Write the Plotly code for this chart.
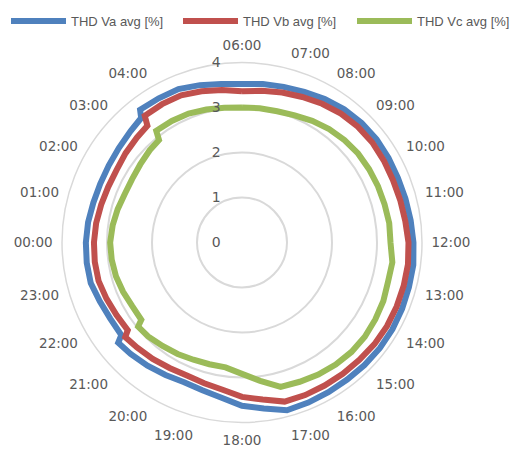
import plotly.graph_objects as go

# time of day in hours (06:00 start, wraps past 24 -> next day)
hours = [6.0, 6.5, 7.0, 7.5, 8.0, 8.5, 9.0, 9.5, 10.0, 10.5, 11.0, 11.5,
         12.0, 12.5, 13.0, 13.5, 14.0, 14.5, 15.0, 15.5, 16.0, 16.5, 17.0, 17.5,
         18.0, 18.5, 19.0, 19.5, 20.0, 20.5, 21.0, 21.4, 21.5, 22.0, 22.5, 23.0,
         23.5, 24.0, 24.5, 25.0, 25.5, 26.0, 26.5, 27.0, 27.4, 27.5, 28.0, 28.5,
         29.0, 29.5, 30.0]

thd_va = [3.52, 3.55, 3.58, 3.62, 3.68, 3.73, 3.76, 3.77, 3.76, 3.75, 3.76, 3.78,
          3.81, 3.84, 3.84, 3.85, 3.86, 3.86, 3.85, 3.84, 3.84, 3.85, 3.86, 3.72,
          3.63, 3.48, 3.40, 3.36, 3.40, 3.45, 3.50, 3.54, 3.38, 3.38, 3.42, 3.48,
          3.48, 3.47, 3.45, 3.42, 3.41, 3.42, 3.45, 3.50, 3.56, 3.72, 3.70, 3.69,
          3.62, 3.55, 3.52]

thd_vb = [3.36, 3.40, 3.45, 3.50, 3.56, 3.61, 3.64, 3.65, 3.64, 3.63, 3.64, 3.66,
          3.70, 3.72, 3.72, 3.72, 3.72, 3.71, 3.69, 3.68, 3.67, 3.67, 3.66, 3.52,
          3.43, 3.30, 3.24, 3.20, 3.22, 3.26, 3.30, 3.34, 3.20, 3.22, 3.26, 3.30,
          3.30, 3.29, 3.27, 3.24, 3.22, 3.22, 3.26, 3.30, 3.34, 3.55, 3.55, 3.54,
          3.48, 3.42, 3.36]

thd_vc = [3.00, 3.01, 3.02, 3.06, 3.12, 3.18, 3.22, 3.25, 3.26, 3.27, 3.28, 3.30,
          3.30, 3.37, 3.36, 3.40, 3.42, 3.44, 3.44, 3.42, 3.39, 3.35, 3.32, 3.10,
          2.92, 2.80, 2.80, 2.82, 2.86, 2.90, 2.95, 2.97, 2.82, 2.82, 2.86, 2.90,
          2.92, 2.93, 2.90, 2.86, 2.82, 2.82, 2.85, 2.90, 2.93, 3.13, 3.12, 3.10,
          3.06, 3.02, 3.00]

# hour labels shown around the chart (the reference shows no 05:00 label)
tick_hours = [0, 1, 2, 3, 4, 6, 7, 8, 9, 10, 11, 12, 13, 14, 15, 16, 17, 18,
              19, 20, 21, 22, 23]
tick_labels = [f"{h:02d}:00" for h in tick_hours]
radial_ticks = [0, 1, 2, 3, 4]

series = [
    ("THD Va avg [%]", thd_va, "#4F81BD"),
    ("THD Vb avg [%]", thd_vb, "#C0504D"),
    ("THD Vc avg [%]", thd_vc, "#9BBB59"),
]

theta = [h * 15 for h in hours]

W, H = 515, 453
cx, cy, R = 242, 242.5, 180
legend_px = [6, 178, 352]
legend_names = ["legend", "legend2", "legend3"]

fig = go.Figure()
for (name, vals, col), lg in zip(series, legend_names):
    fig.add_trace(go.Scatterpolar(
        r=vals, theta=theta, mode="lines", name=name, legend=lg,
        line=dict(color=col, width=6), hoverinfo="skip"))

legend_common = dict(orientation="h", y=1 - 6 / H, xanchor="left", yanchor="top",
                     itemwidth=55,
                     font=dict(family="Liberation Sans, Arial, sans-serif",
                               size=13, color="#595959"),
                     bgcolor="rgba(0,0,0,0)")

fig.update_layout(
    width=W, height=H,
    margin=dict(l=0, r=0, t=0, b=0),
    paper_bgcolor="white",
    font=dict(family="DejaVu Sans, sans-serif", color="#595959"),
    showlegend=True,
    legend=dict(x=legend_px[0] / W, **legend_common),
    legend2=dict(x=legend_px[1] / W, **legend_common),
    legend3=dict(x=legend_px[2] / W, **legend_common),
    polar=dict(
        domain=dict(x=[(cx - R) / W, (cx + R) / W],
                    y=[1 - (cy + R) / H, 1 - (cy - R) / H]),
        bgcolor="white",
        angularaxis=dict(
            rotation=180, direction="clockwise",
            tickmode="array", tickvals=[h * 15 for h in tick_hours],
            ticktext=tick_labels,
            tickfont=dict(family="DejaVu Sans, sans-serif", size=13.5, color="#595959"),
            showgrid=False, showline=True, linecolor="#d9d9d9", linewidth=1.5,
            ticks="outside", ticklen=6, tickcolor="rgba(0,0,0,0)"),
        radialaxis=dict(
            range=[0, 4], tickmode="array", tickvals=radial_ticks,
            showline=False, showgrid=True, gridcolor="#d9d9d9", gridwidth=1.5,
            angle=90, side="counterclockwise", tickangle=90,
            ticks="outside", ticklen=16, tickcolor="rgba(0,0,0,0)",
            tickfont=dict(family="DejaVu Sans, sans-serif", size=14, color="#595959")),
    ),
)

fig.write_html("out.html", config={"displayModeBar": False},
               post_script="document.body.style.margin='0px';")
